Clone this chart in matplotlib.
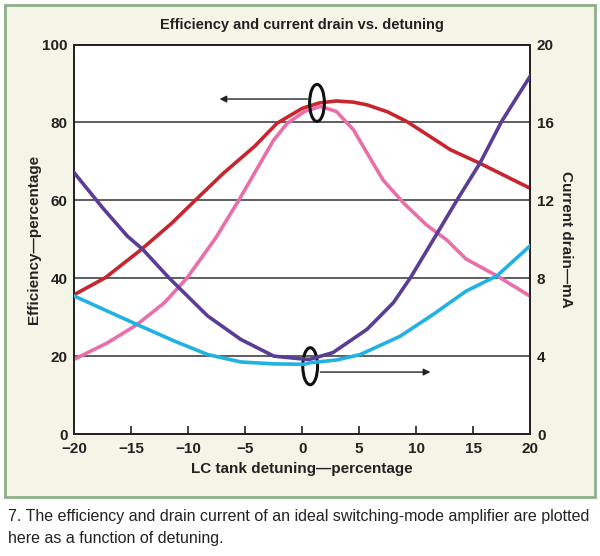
import matplotlib.pyplot as plt
from matplotlib.patches import Rectangle, Ellipse

# efficiency curves (left axis, percent) vs detuning (percent)
detune_red = [-20, -17.3, -14.2, -11.5, -9.5, -6.9, -4.2, -2.2, 0, 1.5, 3, 4.5, 5.7, 7.5, 9.2, 11, 13, 15.6, 17.8, 20]
eff_red = [35.8, 40.1, 47.2, 54, 59.7, 67, 73.8, 79.8, 83.6, 85, 85.5, 85.2, 84.5, 82.7, 80.2, 76.8, 73, 69.5, 66.3, 63.1]

detune_pink = [-20, -17.1, -14.5, -12.1, -10.1, -7.6, -5.55, -2.5, -1.3, 0.2, 1.6, 3, 4.5, 5.7, 7.1, 8.9, 10.9, 12.7, 14.4, 17.1, 20]
eff_pink = [19.2, 23.4, 28.1, 33.7, 40.1, 50.3, 60.1, 75.5, 79.8, 82.8, 84.1, 82.8, 78.1, 72.1, 65.2, 59.3, 53.7, 49.8, 44.9, 40.6, 35.4]

# current drain curves (right axis, mA)
detune_purple = [-20, -17.5, -15.35, -14, -11.7, -8.3, -5.4, -2.5, 0.2, 0.7, 2.7, 5.7, 8, 9.5, 11.6, 13.6, 15.6, 17.5, 20]
drain_purple = [13.4, 11.6, 10.16, 9.48, 8.02, 6.06, 4.86, 4.0, 3.84, 3.84, 4.18, 5.38, 6.74, 8.02, 10.06, 12.02, 13.9, 16.04, 18.36]

detune_cyan = [-20, -14.5, -11.25, -8.3, -5.4, -2.5, 0.2, 0.7, 3, 5.1, 8.6, 11.5, 14.4, 17.1, 20]
drain_cyan = [7.08, 5.62, 4.78, 4.08, 3.7, 3.6, 3.58, 3.66, 3.8, 4.08, 5.02, 6.14, 7.34, 8.12, 9.66]

x_ticks = [-20, -15, -10, -5, 0, 5, 10, 15, 20]
eff_ticks = [0, 20, 40, 60, 80, 100]
drain_ticks = [0, 4, 8, 12, 16, 20]

plt.rcParams['font.family'] = ['Liberation Sans', 'DejaVu Sans']

fig = plt.figure(figsize=(6, 5.56), dpi=100)
W, H = 600, 556

# cream panel with green frame (behind the axes)
fig.patches.append(Rectangle((5 / W, 1 - 497 / H), 590 / W, 492 / H, transform=fig.transFigure,
                             facecolor='#f5f5e7', edgecolor='#8db08b', linewidth=2, zorder=-5))

ax = fig.add_axes([74.4 / W, 1 - 434 / H, 455.6 / W, 389.5 / H])
ax.set_facecolor('white')
ax2 = ax.twinx()

for y in eff_ticks[1:-1]:
    ax.axhline(y, color='#333333', linewidth=1.1, zorder=1)

lw = 2.6
ax.plot(detune_red, eff_red, color='#c8262e', linewidth=lw, zorder=3, solid_joinstyle='round')
ax.plot(detune_pink, eff_pink, color='#e96fa9', linewidth=lw, zorder=3, solid_joinstyle='round')
ax2.plot(detune_purple, drain_purple, color='#5a3d96', linewidth=lw, zorder=3, solid_joinstyle='round')
ax2.plot(detune_cyan, drain_cyan, color='#22b2e2', linewidth=lw, zorder=3, solid_joinstyle='round')

ax.set_xlim(-20, 20)
ax.set_ylim(0, 100)
ax2.set_ylim(0, 20)
ax.set_xticks(x_ticks)
ax.set_xticklabels([f'{t}'.replace('-', '\u2212') for t in x_ticks])
ax.set_yticks(eff_ticks)
ax2.set_yticks(drain_ticks)

ax.tick_params(axis='x', direction='in', length=6, width=1.2, color='#222222', pad=6, labelsize=11)
ax.tick_params(axis='y', length=0, pad=5, labelsize=11)
ax2.tick_params(axis='y', length=0, pad=5, labelsize=11)
for lab in ax.get_xticklabels() + ax.get_yticklabels() + ax2.get_yticklabels():
    lab.set_fontweight('bold')
    lab.set_color('#222222')

for a in (ax, ax2):
    for s in a.spines.values():
        s.set_linewidth(1.3)
        s.set_color('#222222')

ax.set_xlabel('LC tank detuning\u2014percentage', fontsize=11, fontweight='bold', labelpad=4, color='#222222')
ax.set_ylabel('Efficiency\u2014percentage', fontsize=11, fontweight='bold', labelpad=0.5, color='#222222')
ax2.set_ylabel('Current drain\u2014mA', fontsize=11, fontweight='bold', rotation=-90, labelpad=14, color='#222222')
ax.set_title('Efficiency and current drain vs. detuning', fontsize=10.5, fontweight='bold', pad=11, color='#222222')

# ellipses and arrows
ax.add_patch(Ellipse((1.3, 85), 1.3, 9.5, fill=False, edgecolor='#111111', linewidth=2.2, zorder=5))
ax.annotate('', xy=(-7.5, 86), xytext=(0.7, 86),
            arrowprops=dict(arrowstyle='-|>', color='#222222', linewidth=1, mutation_scale=10), zorder=4)
ax.add_patch(Ellipse((0.7, 17.4), 1.3, 9.5, fill=False, edgecolor='#111111', linewidth=2.2, zorder=5))
ax.annotate('', xy=(11.5, 15.9), xytext=(1.35, 15.9),
            arrowprops=dict(arrowstyle='-|>', color='#222222', linewidth=1, mutation_scale=10), zorder=4)

fig.text(8 / W, 1 - 517 / H, '7. The efficiency and drain current of an ideal switching-mode amplifier are plotted',
         fontsize=11.5, va='center', ha='left', color='#222222')
fig.text(8 / W, 1 - 539 / H, 'here as a function of detuning.',
         fontsize=11.5, va='center', ha='left', color='#222222')

fig.savefig('out.png', dpi=100, facecolor='white')
